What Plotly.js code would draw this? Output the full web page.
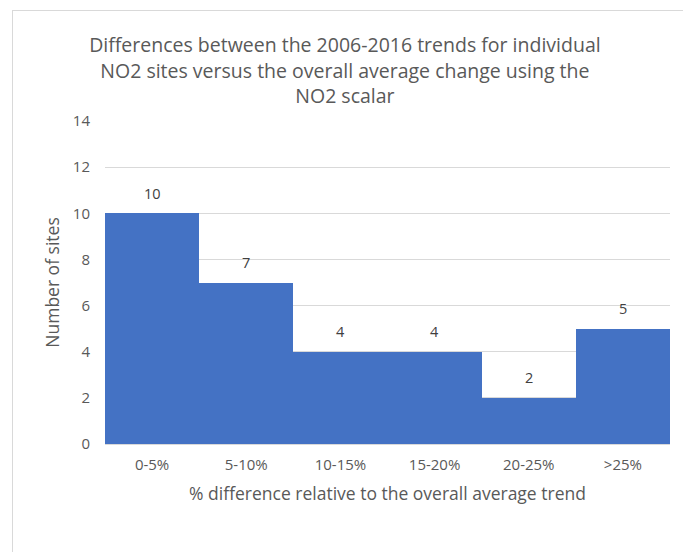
<!DOCTYPE html>
<html>
<head>
<meta charset="utf-8">
<script src="https://cdn.plot.ly/plotly-3.0.1.min.js"></script>
<style>
  html, body { margin: 0; padding: 0; background: #fff; }
  #wrap { position: relative; width: 683px; height: 552px; overflow: hidden; }
  #frame { position: absolute; left: 12px; top: 10px; width: 700px; height: 600px; border: 1px solid #d9d9d9; box-sizing: border-box; pointer-events: none; }
  #chart { position: absolute; left: 0; top: 0; width: 683px; height: 552px; }
</style>
</head>
<body>
<div id="wrap">
  <div id="chart"></div>
  <div id="frame"></div>
</div>
<script>
const categories = ["0-5%", "5-10%", "10-15%", "15-20%", "20-25%", ">25%"];
const siteCounts = [10, 7, 4, 4, 2, 5];
const yTickValues = [0, 2, 4, 6, 8, 10, 12, 14];

const fontFam = "Open Sans, Noto Sans, sans-serif";
const textCol = "#595959";

const trace = {
  type: "bar",
  x: categories,
  y: siteCounts,
  marker: { color: "#4472C4", line: { width: 0 } },
  hoverinfo: "x+y"
};

const labels = categories.map((c, i) => ({
  x: c,
  y: siteCounts[i],
  xref: "x",
  yref: "y",
  text: String(siteCounts[i]),
  showarrow: false,
  yanchor: "middle",
  yshift: 20,
  font: { family: fontFam, size: 14.5, color: "#404040" }
}));

const layout = {
  width: 683,
  height: 552,
  paper_bgcolor: "#ffffff",
  plot_bgcolor: "#ffffff",
  margin: { l: 105, r: 13, t: 121, b: 108 },
  bargap: 0,
  showlegend: false,
  annotations: labels,
  title: {
    text: "Differences between the 2006-2016 trends for individual<br>NO2 sites versus the overall average change using the<br>NO2 scalar",
    font: { family: fontFam, size: 19.5, color: textCol },
    x: 0.505,
    xanchor: "center",
    y: 0.905,
    yanchor: "top",
    yref: "container"
  },
  xaxis: {
    type: "category",
    showgrid: false,
    showline: false,
    ticks: "",
    ticklabelstandoff: 10,
    tickfont: { family: fontFam, size: 15, color: textCol },
    title: {
      text: "% difference relative to the overall average trend",
      font: { family: fontFam, size: 17.5, color: textCol },
      standoff: 14
    }
  },
  yaxis: {
    range: [0, 14],
    tickvals: yTickValues,
    ticktext: yTickValues.map(String),
    showgrid: true,
    gridcolor: "#d9d9d9",
    gridwidth: 1,
    zeroline: true,
    zerolinecolor: "#d9d9d9",
    showline: false,
    ticks: "",
    ticklabelstandoff: 14,
    tickfont: { family: fontFam, size: 15, color: textCol },
    title: {
      text: "Number of sites",
      font: { family: fontFam, size: 17.5, color: textCol },
      standoff: 8
    }
  }
};

Plotly.newPlot("chart", [trace], layout, { displayModeBar: false, responsive: false });
</script>
</body>
</html>
